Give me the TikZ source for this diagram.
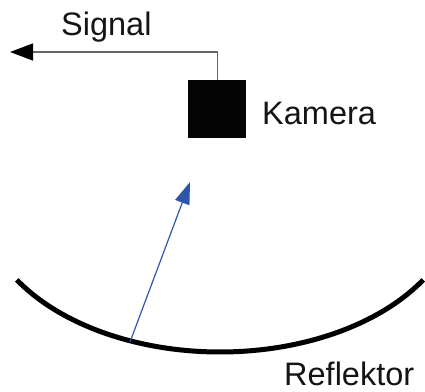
\documentclass[tikz,border=0pt]{standalone}
\usepackage{fontspec}
\setmainfont{Liberation Sans}
\usetikzlibrary{arrows.meta}
\definecolor{raycol}{RGB}{47,85,168}
\begin{document}
\begin{tikzpicture}[x=1pt,y=-1pt,
  lbl/.style={font=\fontsize{32.5}{38}\selectfont, inner sep=0pt, anchor=base west, text=black!92},
  sigline/.style={draw=black!60, line width=1.4pt, -{Triangle[length=23pt,width=17pt,color=black]}},
  ray/.style={draw=raycol, line width=1.2pt, -{Triangle[length=22pt,width=15pt]}},
  refl/.style={draw=black, line width=5pt}]
\useasboundingbox (0,0) rectangle (425,391);
\node[fill=black!98, minimum width=58pt, minimum height=58pt, inner sep=0pt, anchor=north west] (cam) at (188,80) {};
\coordinate (corner) at (217,52);
\coordinate (sigend) at (10,52);
\draw[sigline] (cam.north) |- (corner) -- (sigend);
\node[lbl] (sig) at (61,35) {Signal};
\node[lbl] (kam) at (262,124) {Kamera};
\node[lbl] (ref) at (284,385) {Reflektor};
\draw[refl] plot[domain=31.7:148.3, samples=80, smooth] ({220+238.8*cos(\x)},{200+152*sin(\x)});
\coordinate (foot) at (130,342);
\coordinate (tip) at (190,182);
\draw[ray] (foot) -- (tip);
\end{tikzpicture}
\end{document}
